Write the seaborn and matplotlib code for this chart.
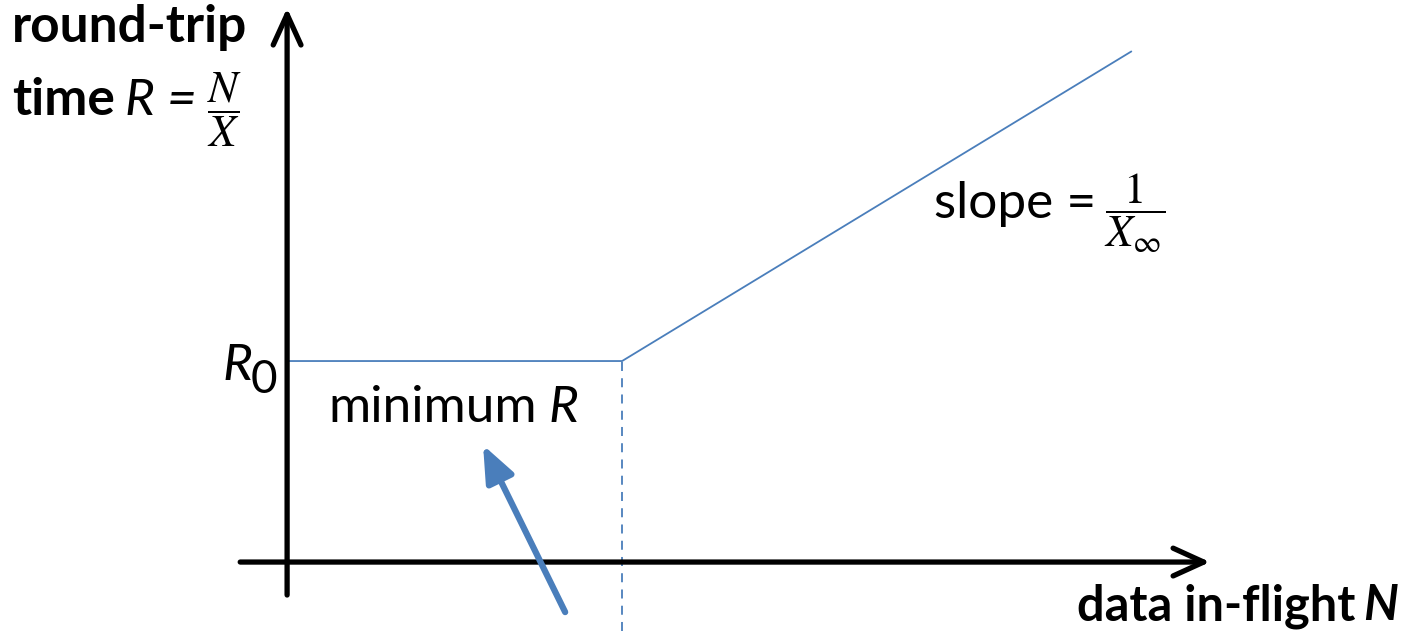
import numpy as np
import pandas as pd
import matplotlib.pyplot as plt
import seaborn as sns

# curve: flat at R0 until the knee, then slope 1/X_inf
n_pts = [0.0, 1.0, 2.52]
r_pts = [1.0, 1.0, 2.54]
knee_n = 1.0
r0 = 1.0

sns.set_theme(style="white")
plt.rcParams["font.family"] = ["Lato", "DejaVu Sans"]
plt.rcParams["mathtext.fontset"] = "stix"
plt.rcParams["text.color"] = "black"

blue = "#4a7ebb"
FS = 37
FR = 32  # fraction size

fig = plt.figure(figsize=(14.01, 6.31), dpi=100)
ax = fig.add_axes([0, 0, 1, 1])
ax.set_xlim(-0.857, 3.325)
ax.set_ylim(-0.343, 2.796)
ax.axis("off")

df = pd.DataFrame({"N": n_pts, "R": r_pts})
sns.lineplot(data=df, x="N", y="R", sort=False, color=blue, lw=1.3, ax=ax)

# dashed drop line from the knee
ax.plot([knee_n, knee_n], [-0.343, r0], color=blue, lw=1.3, ls=(0, (5, 4)))

# axes arrows
arrow_k = dict(arrowstyle="->,head_length=1.1,head_width=0.5",
               lw=3.8, color="black", mutation_scale=20, shrinkA=0, shrinkB=0)
ax.annotate("", xy=(2.755, 0), xytext=(-0.14, 0), arrowprops=arrow_k)
ax.annotate("", xy=(0, 2.756), xytext=(0, -0.164), arrowprops=arrow_k)

# pointer to "minimum R"
ax.annotate("", xy=(0.585, 0.582), xytext=(0.83, -0.249),
            arrowprops=dict(arrowstyle="-|>,head_length=1.1,head_width=0.45",
                            lw=4.5, color=blue, mutation_scale=20,
                            shrinkA=0, shrinkB=0))

# labels
ax.text(-0.821, 2.587, "round-trip", fontsize=FS, fontweight="bold", va="baseline")
ax.text(-0.821, 2.224, "time", fontsize=FS, fontweight="bold", va="baseline")
ax.text(-0.484, 2.224, "R =", fontsize=FS, fontstyle="italic", va="baseline")
ax.text(-0.185, 2.249, r"$\dfrac{N}{X}$", fontsize=FR, ha="center", va="center")

ax.text(-0.194, 0.905, "R", fontsize=FS, fontstyle="italic", va="baseline")
ax.text(-0.11, 0.841, "0", fontsize=FS - 4, va="baseline")

ax.text(0.122, 0.697, "minimum", fontsize=FS, va="baseline")
ax.text(0.779, 0.697, "R", fontsize=FS, fontstyle="italic", va="baseline")

ax.text(1.93, 1.711, "slope =", fontsize=FS, va="baseline")
ax.text(2.53, 1.736, r"$\dfrac{1}{X_{\infty}}$", fontsize=FR, ha="center", va="center")

ax.text(3.19, -0.289, "data in-flight", fontsize=FS - 2, fontweight="bold",
        ha="right", va="baseline")
ax.text(3.316, -0.289, "N", fontsize=FS - 2, fontweight="bold", fontstyle="italic",
        ha="right", va="baseline")

fig.savefig("out.png", dpi=100)
